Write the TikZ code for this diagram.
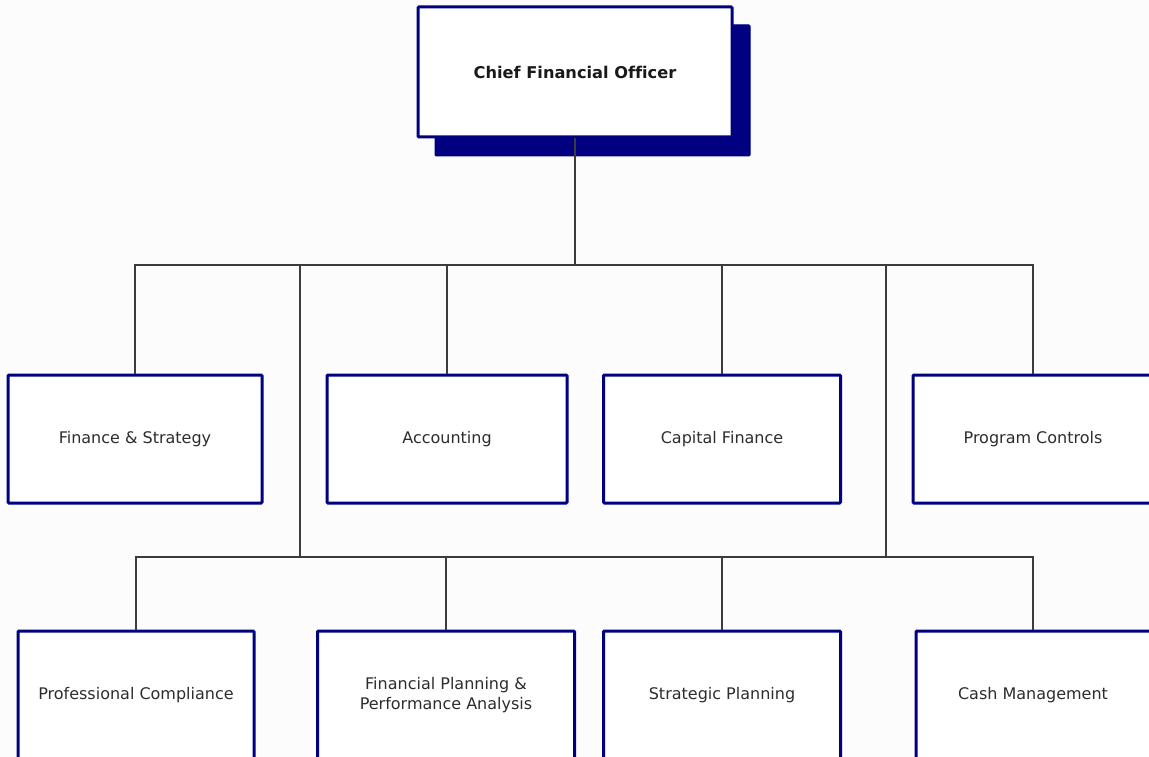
\documentclass[tikz,border=0pt]{standalone}
\usepackage{fontspec}
\setmainfont{DejaVu Sans}[Ligatures=NoCommon]
\definecolor{boxnavy}{RGB}{0,0,128}
\definecolor{linkgray}{RGB}{60,60,60}
\definecolor{labelgray}{RGB}{45,45,45}
\begin{document}
\begin{tikzpicture}[x=1pt,y=-1pt,
  unit/.style={draw=boxnavy,line width=3pt,fill=white,rounded corners=1pt,
    minimum height=128pt,inner sep=0pt,align=center,text=labelgray,
    font=\fontsize{16}{19.5}\selectfont},
  head/.style={unit,minimum width=314pt,minimum height=130pt,text=black!90,
    font=\fontsize{16.2}{19.5}\selectfont\bfseries},
  shadowbox/.style={fill=boxnavy,draw=boxnavy,line width=1pt,rounded corners=1pt},
  link/.style={draw=linkgray,line width=1.3pt}]
\useasboundingbox (0,0) rectangle (1149,757);
\clip (0,0) rectangle (1149,757);
\fill[white!99!black] (0,0) rectangle (1149,757);

% junction points on the two buses
\coordinate (hub) at (575,265);
\coordinate (dropL) at (300,265);
\coordinate (dropR) at (886,265);
\coordinate (hubL) at (300,557);
\coordinate (hubR) at (886,557);

% top position with its drop shadow
\fill[shadowbox] (435,25) rectangle (750,156);
\node[head] (cfo) at (575,72) {Chief Financial Officer};

% first row of units
\node[unit,minimum width=254pt] (fin) at (135,439) {Finance \& Strategy};
\node[unit,minimum width=240pt] (acc) at (447,439) {Accounting};
\node[unit,minimum width=237pt] (cap) at (722,439) {Capital Finance};
\node[unit,minimum width=240pt] (prog) at (1033,439) {Program Controls};

% second row of units
\node[unit,minimum width=236pt] (comp) at (136,695) {Professional Compliance};
\node[unit,minimum width=257pt] (fpa) at (446,695) {Financial Planning \&\\Performance Analysis};
\node[unit,minimum width=237pt] (strat) at (722,695) {Strategic Planning};
\node[unit,minimum width=246pt] (cash) at (1039,695) {};
\node[text=labelgray,font=\fontsize{16}{19.5}\selectfont] (cashlabel) at (1033,695) {Cash Management};

% connectors
\draw[link] (cfo.south) -- (hub);
\draw[link] (hub) -| (fin.north);
\draw[link] (hub) -| (acc.north);
\draw[link] (hub) -| (cap.north);
\draw[link] (hub) -| (prog.north);
\draw[link] (dropL) -- (hubL);
\draw[link] (dropR) -- (hubR);
\draw[link] (hubL) -- (hubR);
\draw[link] (hubL) -| (comp.north);
\draw[link] (hubL) -| (fpa.north);
\draw[link] (hubR) -| (strat.north);
\draw[link] (hubR) -- (hubR -| cashlabel) -- (cash.north -| cashlabel);
\end{tikzpicture}
\end{document}
